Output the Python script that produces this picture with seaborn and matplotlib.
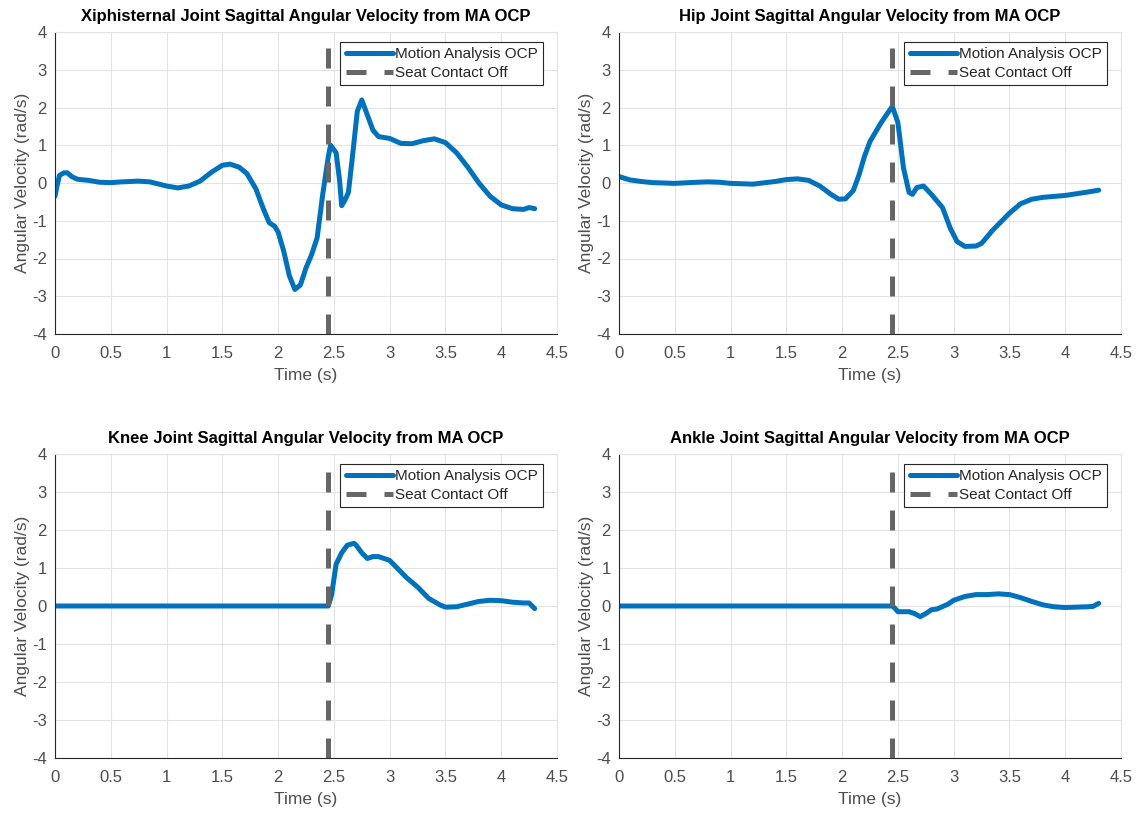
import numpy as np
import pandas as pd
import matplotlib
matplotlib.use("Agg")
import matplotlib.pyplot as plt
import seaborn as sns

# ---------------- data ----------------
xiph_t = [0.0, 0.02, 0.04, 0.08, 0.11, 0.15, 0.2, 0.3, 0.4, 0.5, 0.6, 0.75, 0.85, 1.0, 1.1, 1.2, 1.3,
          1.4, 1.5, 1.57, 1.65, 1.72, 1.8, 1.87, 1.92, 1.97, 2.0, 2.05, 2.1, 2.15, 2.2, 2.25, 2.3,
          2.35, 2.4, 2.45, 2.47, 2.52, 2.55, 2.57, 2.6, 2.63, 2.67, 2.71, 2.75, 2.8, 2.85, 2.9,
          3.0, 3.1, 3.2, 3.3, 3.4, 3.5, 3.6, 3.7, 3.8, 3.9, 4.0, 4.1, 4.2, 4.25, 4.3]
xiph_v = [-0.35, -0.05, 0.2, 0.27, 0.27, 0.17, 0.1, 0.07, 0.02, 0.01, 0.03, 0.05, 0.03, -0.08, -0.13,
          -0.08, 0.05, 0.28, 0.47, 0.5, 0.42, 0.25, -0.15, -0.7, -1.05, -1.15, -1.3, -1.8, -2.45,
          -2.82, -2.7, -2.25, -1.9, -1.45, -0.3, 0.7, 1.0, 0.8, 0.1, -0.6, -0.45, -0.25, 0.8, 1.9,
          2.2, 1.8, 1.4, 1.23, 1.18, 1.05, 1.04, 1.12, 1.17, 1.07, 0.8, 0.42, 0.0, -0.35, -0.58,
          -0.68, -0.7, -0.65, -0.68]

hip_t = [0.0, 0.1, 0.2, 0.3, 0.5, 0.7, 0.8, 0.9, 1.0, 1.2, 1.4, 1.5, 1.6, 1.7, 1.8, 1.9, 1.97, 2.03,
         2.1, 2.15, 2.2, 2.25, 2.35, 2.45, 2.5, 2.55, 2.6, 2.63, 2.67, 2.73, 2.8, 2.9, 2.97, 3.03,
         3.1, 3.2, 3.25, 3.35, 3.5, 3.6, 3.7, 3.8, 4.0, 4.2, 4.3]
hip_v = [0.17, 0.08, 0.04, 0.01, -0.01, 0.02, 0.03, 0.02, -0.01, -0.03, 0.04, 0.09, 0.11, 0.07, -0.08,
         -0.3, -0.43, -0.42, -0.2, 0.2, 0.7, 1.1, 1.6, 2.03, 1.6, 0.4, -0.25, -0.3, -0.12, -0.08,
         -0.3, -0.65, -1.2, -1.55, -1.68, -1.67, -1.6, -1.25, -0.8, -0.55, -0.43, -0.38, -0.33,
         -0.24, -0.19]

knee_t = [0.0, 1.0, 2.0, 2.45, 2.48, 2.52, 2.57, 2.62, 2.68, 2.7, 2.75, 2.8, 2.85, 2.9, 3.0, 3.05,
          3.15, 3.25, 3.35, 3.45, 3.5, 3.6, 3.7, 3.8, 3.9, 4.0, 4.1, 4.2, 4.25, 4.3]
knee_v = [0.0, 0.0, 0.0, 0.0, 0.3, 1.1, 1.4, 1.6, 1.65, 1.6, 1.4, 1.25, 1.3, 1.3, 1.2, 1.05, 0.75,
          0.5, 0.2, 0.03, -0.03, -0.02, 0.05, 0.12, 0.15, 0.14, 0.1, 0.08, 0.08, -0.07]

ankle_t = [0.0, 1.0, 2.0, 2.45, 2.47, 2.5, 2.6, 2.65, 2.7, 2.75, 2.8, 2.85, 2.95, 3.0, 3.1, 3.2,
           3.3, 3.4, 3.5, 3.6, 3.7, 3.8, 3.9, 4.0, 4.1, 4.2, 4.25, 4.3]
ankle_v = [0.0, 0.0, 0.0, 0.0, -0.05, -0.15, -0.15, -0.2, -0.28, -0.2, -0.1, -0.08, 0.05, 0.15,
           0.25, 0.3, 0.3, 0.32, 0.3, 0.22, 0.12, 0.03, -0.02, -0.04, -0.03, -0.02, -0.01, 0.07]

seat_off_time = 2.45
seat_line_span = [-4.0, 3.7]

titles = ["Xiphisternal Joint Sagittal Angular Velocity from MA OCP",
          "Hip Joint Sagittal Angular Velocity from MA OCP",
          "Knee Joint Sagittal Angular Velocity from MA OCP",
          "Ankle Joint Sagittal Angular Velocity from MA OCP"]
x_ticks = [0, 0.5, 1, 1.5, 2, 2.5, 3, 3.5, 4, 4.5]
x_tick_labels = ["0", "0.5", "1", "1.5", "2", "2.5", "3", "3.5", "4", "4.5"]
y_ticks = [-4, -3, -2, -1, 0, 1, 2, 3, 4]
y_tick_labels = ["-4", "-3", "-2", "-1", "0", "1", "2", "3", "4"]
series_label = "Motion Analysis OCP"
seat_label = "Seat Contact Off"
xlabel = "Time (s)"
ylabel = "Angular Velocity (rad/s)"

series = [(xiph_t, xiph_v), (hip_t, hip_v), (knee_t, knee_v), (ankle_t, ankle_v)]

# ---------------- style ----------------
sns.set_theme(style="whitegrid")
plt.rcParams['font.family'] = ['Liberation Sans', 'DejaVu Sans']

fig = plt.figure(figsize=(11.41, 8.14), dpi=100)
fig.patch.set_facecolor("white")

W, H = 1141.0, 814.0
boxes = [(55, 32, 557, 334), (619, 32, 1121, 334), (55, 454, 557, 758), (619, 454, 1121, 758)]

line_color = "#0072BD"
seat_color = "#666666"
text_gray = "#4d4d4d"

for (x0, y0, x1, y1), (t, v), title in zip(boxes, series, titles):
    ax = fig.add_axes([x0 / W, 1 - y1 / H, (x1 - x0) / W, (y1 - y0) / H])
    df = pd.DataFrame({"t": t, "v": v})
    sns.lineplot(data=df, x="t", y="v", ax=ax, color=line_color, linewidth=3.6,
                 label=series_label, sort=False)
    ax.vlines(seat_off_time, seat_line_span[0], seat_line_span[1], colors=seat_color,
              linewidth=3.6, linestyles=(0, (4.0, 3.6)), label=seat_label, zorder=3)
    ax.set_xlim(0, 4.5)
    ax.set_ylim(-4, 4)
    ax.set_xticks(x_ticks)
    ax.set_xticklabels(x_tick_labels)
    ax.set_yticks(y_ticks)
    ax.set_yticklabels(y_tick_labels)
    ax.set_facecolor("white")
    ax.grid(True, color="#e3e3e3", linewidth=0.8)
    for side in ["left", "bottom"]:
        ax.spines[side].set_color("#262626")
        ax.spines[side].set_linewidth(0.8)
    for side in ["top", "right"]:
        ax.spines[side].set_color("#e3e3e3")
        ax.spines[side].set_linewidth(0.8)
    ax.tick_params(axis="both", direction="in", length=4, width=0.8, color="#262626",
                   labelsize=12, labelcolor=text_gray)
    ax.tick_params(axis="x", pad=9)
    ax.tick_params(axis="y", pad=6)
    ax.set_xlabel(xlabel, fontsize=12.5, color=text_gray, labelpad=5)
    ax.set_ylabel(ylabel, fontsize=12.5, color=text_gray, labelpad=1)
    ax.set_title(title, fontsize=12, fontweight="bold", color="black", pad=8)
    leg = ax.legend(loc="upper right", bbox_to_anchor=(0.973, 0.967), fontsize=11,
                    frameon=True, fancybox=False, handlelength=3.1, handletextpad=0.15,
                    borderpad=0.35, labelspacing=0.3, borderaxespad=0)
    leg.get_frame().set_edgecolor("#262626")
    leg.get_frame().set_linewidth(0.8)
    leg.get_frame().set_alpha(1)
    for txt in leg.get_texts():
        txt.set_color("#262626")

fig.savefig("out.png", dpi=100, facecolor="white")
